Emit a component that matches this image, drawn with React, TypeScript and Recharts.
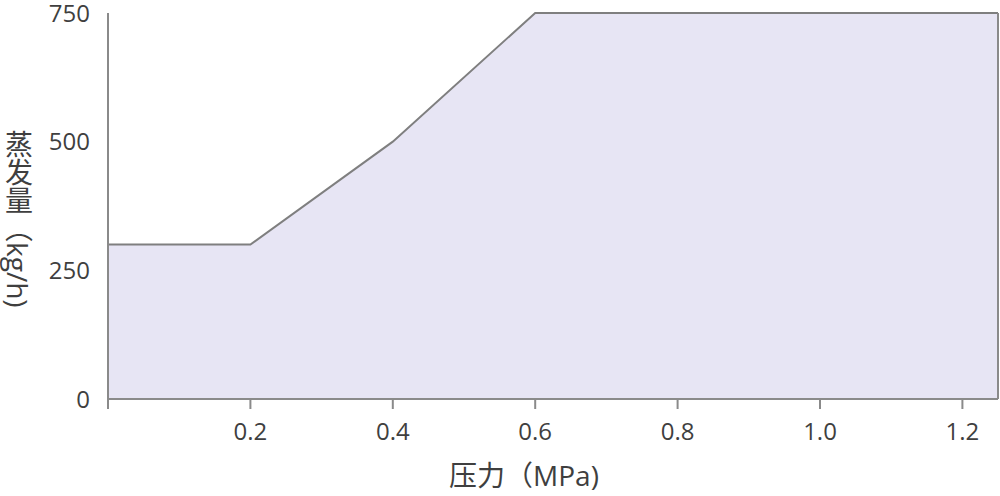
import React from 'react'
import { AreaChart, Area, XAxis, YAxis } from 'recharts'

const pressure = [0, 0.2, 0.4, 0.6, 1.25]
const evaporation = [300, 300, 500, 750, 750]
const xTicks = [0, 0.2, 0.4, 0.6, 0.8, 1.0, 1.2]
const yTicks = [0, 250, 500, 750]

const data = pressure.map((p, i) => ({ p, v: evaporation[i] }))

const FONT = '"Open Sans", "Noto Sans CJK SC", sans-serif'
const AXIS = '#8a8a8a'
const TEXT = '#3f3f3f'

const YTitle = () => (
  <text
    x={18}
    y={130}
    fill={TEXT}
    fontSize={28}
    fontFamily={FONT}
    style={{ writingMode: 'vertical-rl' }}
  >
    蒸发量（kg/h)
  </text>
)

export default function App() {
  return (
    <div style={{ position: 'absolute', left: 0, top: 0 }}>
      <AreaChart
        width={1000}
        height={496}
        data={data}
        margin={{ top: 13, right: 0, bottom: 0, left: 0 }}
      >
        <XAxis
          dataKey="p"
          type="number"
          domain={[0, 1.25]}
          ticks={xTicks}
          tickFormatter={(v) => (v === 0 ? '' : v.toFixed(1))}
          height={97}
          stroke={AXIS}
          strokeWidth={2}
          tickSize={10}
          tickMargin={14}
          tick={{ fill: TEXT, fontSize: 24, fontFamily: FONT }}
          label={{
            value: '压力（MPa)',
            position: 'insideBottom',
            offset: 10,
            dx: -29,
            fill: TEXT,
            fontSize: 28,
            fontFamily: FONT,
          }}
        />
        <XAxis xAxisId="top" orientation="top" height={0} tick={false} tickLine={false} stroke={AXIS} strokeWidth={2} />
        <YAxis
          domain={[0, 750]}
          ticks={yTicks}
          width={108}
          stroke={AXIS}
          strokeWidth={2}
          tickLine={false}
          tickSize={0}
          tickMargin={18}
          tick={{ fill: TEXT, fontSize: 24, fontFamily: FONT }}
          label={<YTitle />}
        />
        <YAxis yAxisId="right" orientation="right" width={2} tick={false} tickLine={false} stroke={AXIS} strokeWidth={2} />
        <Area
          type="linear"
          dataKey="v"
          stroke="#7f7f7f"
          strokeWidth={2}
          fill="#e7e5f4"
          fillOpacity={1}
          isAnimationActive={false}
        />
      </AreaChart>
    </div>
  )
}
